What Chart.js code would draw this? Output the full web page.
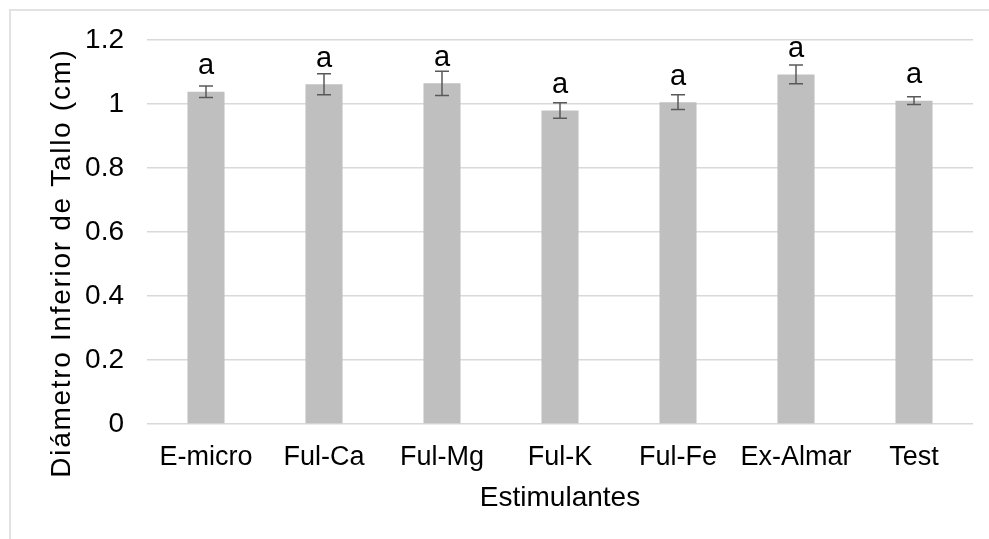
<!DOCTYPE html>
<html>
<head>
<meta charset="utf-8">
<script src="https://cdn.jsdelivr.net/npm/chart.js@4.4.1/dist/chart.umd.min.js"></script>
<style>
    html, body { margin: 0; padding: 0; background: #ffffff; overflow: hidden; }
    #wrap { position: relative; width: 989px; height: 539px; }
    #frame { position: absolute; left: 9px; top: 9px; width: 1000px; height: 600px; border: 2px solid #e2e2e2; box-sizing: border-box; }
    #chart { position: absolute; left: 0; top: 0; }
</style>
</head>
<body>
<div id="wrap">
    <div id="frame"></div>
    <canvas id="chart" width="989" height="539"></canvas>
</div>
<script>
// Data
const categories = ['E-micro', 'Ful-Ca', 'Ful-Mg', 'Ful-K', 'Ful-Fe', 'Ex-Almar', 'Test'];
const means = [1.038, 1.061, 1.064, 0.979, 1.005, 1.092, 1.010];
const errors = [0.018, 0.033, 0.038, 0.024, 0.023, 0.029, 0.012];
const letters = ['a', 'a', 'a', 'a', 'a', 'a', 'a'];
const yTicks = [0, 0.2, 0.4, 0.6, 0.8, 1, 1.2];
const yTitle = 'Diámetro Inferior de Tallo (cm)';

const fontFamily = '"Liberation Sans", Arial, sans-serif';

Chart.defaults.font.family = fontFamily;
Chart.defaults.color = '#000000';

// Error bars, significance letters and the y axis title (Excel places it lower than center)
const errorBars = {
    id: 'errorBars',
    afterDatasetsDraw(chart) {
        const ctx = chart.ctx;
        const y = chart.scales.y;
        const meta = chart.getDatasetMeta(0);
        ctx.save();
        meta.data.forEach((bar, i) => {
            const top = y.getPixelForValue(means[i] + errors[i]);
            const bot = y.getPixelForValue(means[i] - errors[i]);
            const cap = 7;
            ctx.strokeStyle = '#595959';
            ctx.lineWidth = 1.5;
            ctx.beginPath();
            ctx.moveTo(bar.x, top);
            ctx.lineTo(bar.x, bot);
            ctx.moveTo(bar.x - cap, top);
            ctx.lineTo(bar.x + cap, top);
            ctx.moveTo(bar.x - cap, bot);
            ctx.lineTo(bar.x + cap, bot);
            ctx.stroke();

            ctx.fillStyle = '#000000';
            ctx.font = '29px ' + fontFamily;
            ctx.textAlign = 'center';
            ctx.textBaseline = 'alphabetic';
            ctx.fillText(letters[i], bar.x, bar.y - 17.5);
        });

        // y axis title, a little spaced out like the original
        ctx.translate(70, 263);
        ctx.rotate(-Math.PI / 2);
        ctx.font = '28px ' + fontFamily;
        ctx.letterSpacing = '1.7px';
        ctx.textAlign = 'center';
        ctx.textBaseline = 'alphabetic';
        ctx.fillStyle = '#000000';
        ctx.fillText(yTitle, 0, 0);
        ctx.restore();
    },
};

new Chart(document.getElementById('chart'), {
    type: 'bar',
    data: {
        labels: categories,
        datasets: [{
            data: means,
            backgroundColor: '#bfbfbf',
            borderWidth: 0,
            barPercentage: 0.314,
            categoryPercentage: 1,
        }],
    },
    options: {
        responsive: false,
        animation: false,
        devicePixelRatio: 1,
        layout: {
            padding: { left: 0, right: 16, top: 38, bottom: 0 },
        },
        scales: {
            x: {
                border: { display: false },
                grid: { display: false },
                ticks: {
                    color: '#000000',
                    font: { size: 27 },
                    padding: 9,
                    maxRotation: 0,
                    autoSkip: false,
                },
                title: {
                    display: true,
                    text: 'Estimulantes',
                    color: '#000000',
                    font: { size: 28 },
                    padding: { top: 0, bottom: 24 },
                },
                afterFit(scale) {
                    scale.height = 115;
                },
            },
            y: {
                min: 0,
                max: 1.2,
                border: { display: false },
                grid: {
                    color: '#d9d9d9',
                    lineWidth: 1.5,
                    drawTicks: false,
                },
                afterBuildTicks(scale) {
                    scale.ticks = yTicks.map((v) => ({ value: v }));
                },
                ticks: {
                    color: '#000000',
                    font: { size: 28 },
                    padding: 23,
                    callback: (v) => String(Math.round(v * 10) / 10),
                },
                afterFit(scale) {
                    scale.width = 147;
                },
            },
        },
        plugins: {
            legend: { display: false },
            tooltip: { enabled: false },
        },
    },
    plugins: [errorBars],
});
</script>
</body>
</html>
